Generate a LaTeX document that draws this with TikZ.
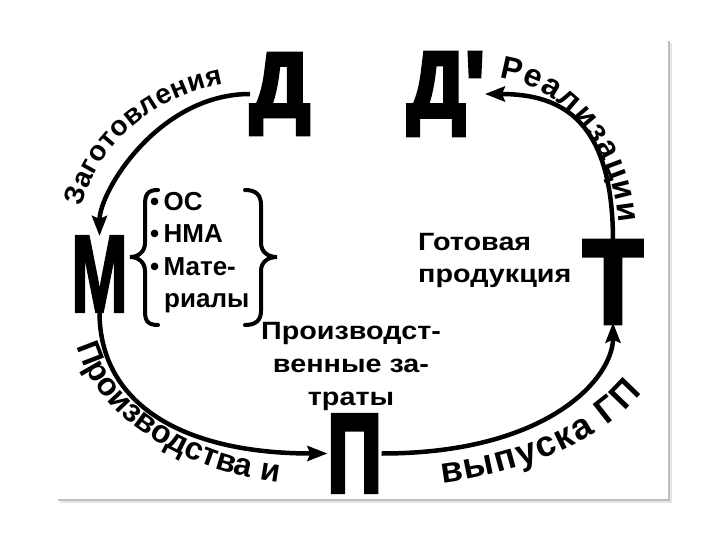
\documentclass[tikz,border=0pt]{standalone}
\usepackage{fontspec}
\setmainfont{Liberation Sans}
\newfontfamily\bigfont{Liberation Sans}[BoldFeatures={FakeBold=5}]
\newfontfamily\bigfontm{Liberation Sans}[BoldFeatures={FakeBold=2.5}]
\newfontfamily\wb{Liberation Sans}[BoldFeatures={FakeStretch=1.15}]
\usetikzlibrary{arrows.meta,decorations.text,calc}
\begin{document}
\begin{tikzpicture}[x=1pt,y=-1pt,
  big/.style={inner sep=0pt, font=\bigfont\bfseries\fontsize{110}{110}\selectfont},
  bigm/.style={inner sep=0pt, font=\bigfontm\bfseries\fontsize{110}{110}\selectfont},
  arr/.style={line width=4.5pt, -{Stealth[length=20pt,width=15pt,inset=3pt]}},
  brc/.style={line width=4pt, line cap=round},
  lbl/.style={inner sep=0pt, font=\bfseries\fontsize{26}{30}\selectfont, anchor=base west},
  wlbl/.style={inner sep=0pt, font=\wb\bfseries\fontsize{25}{30}\selectfont, anchor=base west},
  clbl/.style={inner sep=0pt, font=\wb\bfseries\fontsize{25}{30}\selectfont, anchor=base}]
\useasboundingbox (0,0) rectangle (720,540);
\fill[white] (0,0) rectangle (720,540);
\fill[gray!20] (60,43) rectangle (672,503);
\fill[gray!50] (58,41) rectangle (670,501);
\fill[white] (56,39) rectangle (668,499);

\node[big] (D) at (280,94) {\scalebox{0.76}[0.82]{Д}};
\node[big] (D2) at (446,94) {\scalebox{0.74}[0.84]{Д'}};
\node[bigm] (M) at (99.5,274) {\scalebox{0.62}[1]{М}};
\node[big] (T) at (613,282) {\scalebox{0.88}[1.07]{Т}};
\node[big] (P) at (354.5,453.5) {\scalebox{0.68}[1]{П}};

\draw[arr] (D.west) .. controls +(-91,0) and +(0,-45) .. (M.north);
\draw[arr] (M.south) .. controls +(0,92) and +(-145,0) .. (P.west);
\draw[arr] (P.east) .. controls +(167,0) and +(0,55) .. (T.south);
\draw[arr] (T.north) .. controls +(0,-121) and +(77,0) .. (D2.east);

\path[decorate, decoration={text along path, text={|\bfseries\fontsize{28}{30}\selectfont|Заготовления}, text align={fit to path}}]
  (82.0,206.9) arc[start angle=-168, end angle=-101.7, x radius=182, y radius=159];
\path[decorate, decoration={text along path, text={|\bfseries\fontsize{32}{34}\selectfont|Реализации}, text align={fit to path}}]
  (499.1,77.9) arc[start angle=-84, end angle=-6, x radius=135, y radius=163];
\path[decorate, decoration={text along path, text={|\bfseries\fontsize{32}{34}\selectfont|Производства и}, text align={fit to path}}]
  (76.7,346.0) arc[start angle=169, end angle=101, x radius=255, y radius=173];
\path[decorate, decoration={text along path, text={|\bfseries\fontsize{36}{38}\selectfont|выпуска ГП}, text align={fit to path}}]
  (442.2,483.0) arc[start angle=77.5, end angle=24.4, x radius=287.5, y radius=159.8];

\draw[brc] (158,190) .. controls (147,190) and (145,195) .. (145,205) -- (145,243)
  .. controls (145,252) and (138,257) .. (130,257)
  .. controls (138,257) and (145,262) .. (145,271) -- (145,311)
  .. controls (145,320) and (147,325) .. (158,325);
\draw[brc] (245,190) .. controls (256,190) and (261,195) .. (261,205) -- (261,243)
  .. controls (261,252) and (268,257) .. (277,257)
  .. controls (268,257) and (261,262) .. (261,271) -- (261,311)
  .. controls (261,320) and (256,325) .. (245,325);

\node[lbl] (l1) at (150,211) {•\,ОС};
\node[lbl] (l2) at (150,243) {•\,НМА};
\node[lbl] (l3) at (150,275) {•\,Мате-};
\node[lbl] (l4) at (164,307) {риалы};

\node[wlbl] (g1) at (418,251) {Готовая};
\node[wlbl] (g2) at (418,282) {продукция};

\node[clbl] (p1) at (351,339) {Производст-};
\node[clbl] (p2) at (351,372) {венные за-};
\node[clbl] (p3) at (351,405) {траты};
\end{tikzpicture}
\end{document}
